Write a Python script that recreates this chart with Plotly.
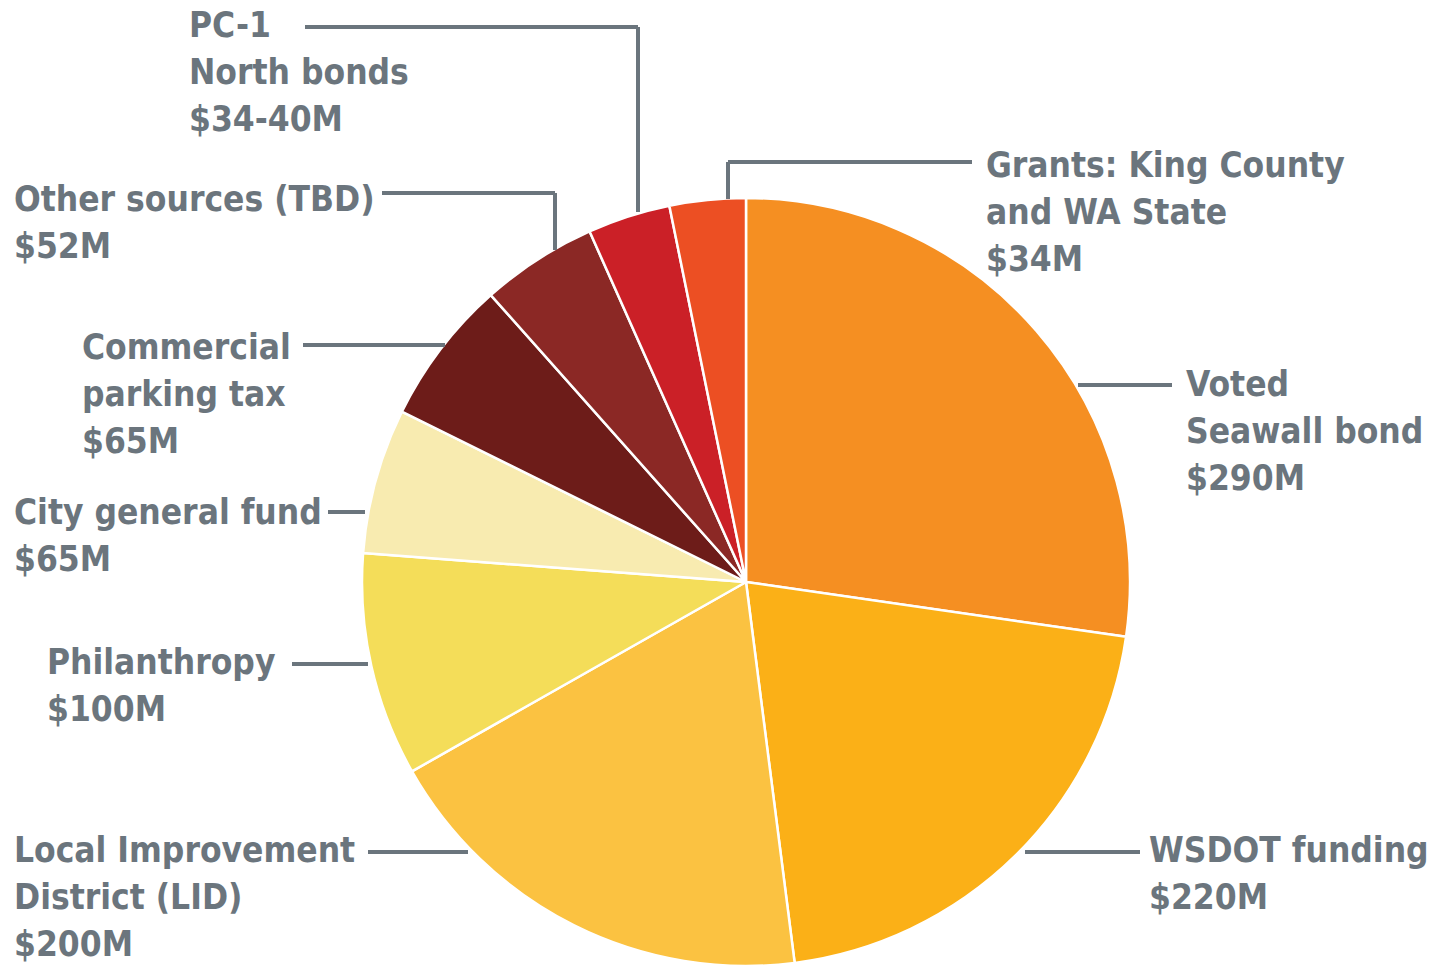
import plotly.graph_objects as go

# Funding sources (millions of dollars), clockwise from 12 o'clock
sources = [
    "Voted Seawall bond",
    "WSDOT funding",
    "Local Improvement District (LID)",
    "Philanthropy",
    "City general fund",
    "Commercial parking tax",
    "Other sources (TBD)",
    "PC-1 North bonds",
    "Grants: King County and WA State",
]
amounts = [290, 220, 200, 100, 65, 65, 52, 37, 34]
amount_labels = ["$290M", "$220M", "$200M", "$100M", "$65M", "$65M", "$52M", "$34-40M", "$34M"]
label_lines = [
    ["Voted", "Seawall bond"],
    ["WSDOT funding"],
    ["Local Improvement", "District (LID)"],
    ["Philanthropy"],
    ["City general fund"],
    ["Commercial", "parking tax"],
    ["Other sources (TBD)"],
    ["PC-1", "North bonds"],
    ["Grants: King County", "and WA State"],
]
slice_colors = ["#F58F22", "#FBB017", "#FBC241", "#F4DD59", "#F8EBB0",
                "#6D1C19", "#8B2825", "#CB2027", "#EC4F23"]

W, H = 1436, 966
CX, CY, R = 746, 582, 384  # pie centre and radius in pixels
TEXT = "#6B757D"
FONT = "DejaVu Sans Condensed"


def px(x):
    return x / W


def py(y):
    return 1 - y / H


# Label placement: (left x, first-line centre y) and leader polyline points, in pixels
label_pos = [
    (1187, 384), (1150, 850), (15, 850), (48, 662), (15, 512),
    (83, 347), (15, 199), (190, 25), (987, 165),
]
leaders = [
    [(1078, 385), (1172, 385)],
    [(1025, 852), (1140, 852)],
    [(368, 852), (468, 852)],
    [(292, 664), (368, 664)],
    [(328, 512), (365, 512)],
    [(303, 345), (445, 345)],
    [(382, 193), (555, 193), (555, 250)],
    [(305, 27), (638, 27), (638, 212)],
    [(972, 162), (728, 162), (728, 199)],
]

fig = go.Figure(go.Pie(
    labels=sources,
    values=amounts,
    sort=False,
    direction="clockwise",
    rotation=0,
    textinfo="none",
    hoverinfo="label+value",
    marker=dict(colors=slice_colors, line=dict(color="white", width=2.5)),
    domain=dict(x=[px(CX - R), px(CX + R)], y=[py(CY + R), py(CY - R)]),
    showlegend=False,
))

LINE_H = 47
FS = 35
X_PAD = 3  # annotation box padding to the glyphs
for lines, amt, (lx, ly) in zip(label_lines, amount_labels, label_pos):
    for i, line in enumerate(lines + [amt]):
        fig.add_annotation(
            x=px(lx - X_PAD), y=py(ly + i * LINE_H), xref="paper", yref="paper",
            xanchor="left", yanchor="middle", align="left",
            text=line, showarrow=False,
            font=dict(family=FONT, size=FS, color=TEXT, weight="bold"),
        )

for pts in leaders:
    for (x0, y0), (x1, y1) in zip(pts[:-1], pts[1:]):
        fig.add_shape(
            type="line", xref="paper", yref="paper",
            x0=px(x0), y0=py(y0), x1=px(x1), y1=py(y1),
            line=dict(color=TEXT, width=4),
        )

fig.update_layout(
    width=W, height=H,
    margin=dict(l=0, r=0, t=0, b=0),
    paper_bgcolor="white",
    plot_bgcolor="white",
)

fig.write_html("out.html")
